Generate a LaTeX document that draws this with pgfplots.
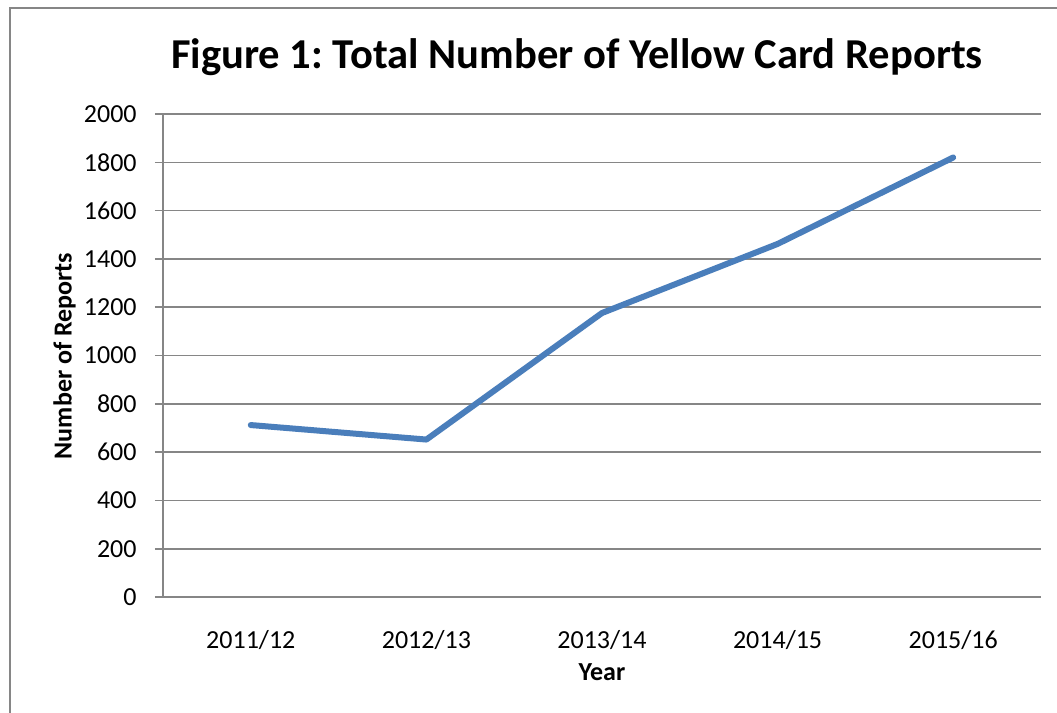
\documentclass[border=0pt]{standalone}
\usepackage{pgfplots}
\pgfplotsset{compat=1.18}
\usepackage{fontspec}
\setmainfont{Carlito}
\frenchspacing
\definecolor{gridgrey}{RGB}{134,134,134}
\definecolor{lineblue}{RGB}{74,126,187}
\begin{document}
\begin{tikzpicture}
\useasboundingbox (0pt,0pt) rectangle (528.5pt,-356.5pt);
\fill[white] (0pt,0pt) rectangle (528.5pt,-356.5pt);
\draw[gridgrey, line width=0.8pt] (5pt,-356.5pt) -- (5pt,-4pt) -- (528.5pt,-4pt);
\begin{axis}[
  at={(81.5pt,-298.5pt)}, anchor=south west,
  scale only axis, width=439pt, height=241.5pt,
  xmin=-0.5, xmax=4.5, ymin=0, ymax=2000,
  xtick={0,1,2,3,4},
  xticklabels={2011/12,2012/13,2013/14,2014/15,2015/16},
  ytick={0,200,...,2000},
  /pgf/number format/1000 sep={},
  /pgf/number format/assume math mode=true,
  axis x line*=bottom, axis y line*=left,
  axis line style={gridgrey, line width=0.8pt, -},
  ymajorgrids,
  grid style={gridgrey, line width=0.8pt},
  tick align=outside,
  major tick length=4pt,
  xtick style={draw=none},
  ytick style={gridgrey, line width=0.8pt},
  ticklabel style={font=\fontsize{13}{15}\selectfont, text=black},
  xticklabel style={anchor=base, yshift=-21.5pt},
  yticklabel style={anchor=east, inner sep=0pt, xshift=-9pt},
  clip=false,
]
\addplot[lineblue, line width=3pt, line join=round, line cap=round]
  coordinates {(0,712) (1,652) (2,1176) (3,1462) (4,1820)};
\end{axis}
\node[anchor=base, font=\bfseries\fontsize{21.3}{25}\selectfont] at (288.5pt,-34pt) {Figure 1: Total Number of Yellow Card Reports};
\node[anchor=base, font=\bfseries\fontsize{13}{15}\selectfont] at (301pt,-340pt) {Year};
\node[anchor=base, rotate=90, font=\bfseries\fontsize{13}{15}\selectfont] at (35.8pt,-178pt) {Number of Reports};
\end{tikzpicture}
\end{document}
